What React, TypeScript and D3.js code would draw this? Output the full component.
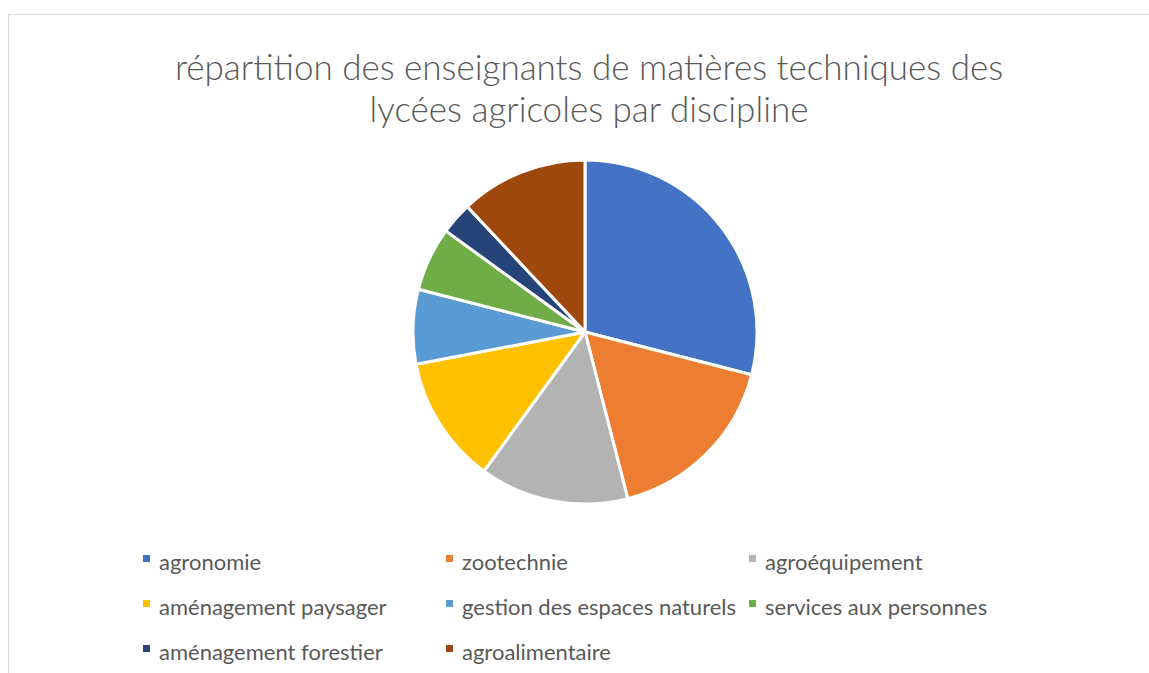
import React from 'react';
import * as d3 from 'd3';

const categories = [
  'agronomie',
  'zootechnie',
  'agroéquipement',
  'aménagement paysager',
  'gestion des espaces naturels',
  'services aux personnes',
  'aménagement forestier',
  'agroalimentaire',
];
const values = [29, 17, 14, 12, 7, 6, 3, 12];
const colors = ['#4472C4', '#ED7D31', '#B3B3B3', '#FFC000', '#5B9BD5', '#70AD47', '#264478', '#9E480E'];
const titleLines = ['répartition des enseignants de matières techniques des', 'lycées agricoles par discipline'];

const W = 1149;
const H = 673;
const FONT = "Lato, 'Open Sans', sans-serif";

function App() {
  const cx = 585;
  const cy = 332;
  const radius = 172;

  const pie = d3.pie<number>().sort(null).value((d) => d);
  const arcs = pie(values);
  const arcGen = d3.arc<d3.PieArcDatum<number>>().innerRadius(0).outerRadius(radius);

  const colX = d3.scaleOrdinal<number, number>().domain([0, 1, 2]).range([143, 446, 749]);
  const rowY = d3.scaleLinear().domain([0, 1]).range([563, 608]);

  return (
    <svg width={W} height={H} style={{ position: 'absolute', left: 0, top: 0 }}>
      <rect x={0} y={0} width={W} height={H} fill="#fff" />
      <rect x={8.5} y={14.5} width={W + 20} height={H + 20} fill="#fff" stroke="#d9d9d9" strokeWidth={1} />
      <g fontFamily={FONT} fill="#595959" textAnchor="middle" fontSize={35} fontWeight={300}>
        {titleLines.map((t, i) => (
          <text key={i} x={589} y={80 + i * 42}>{t}</text>
        ))}
      </g>
      <g transform={`translate(${cx},${cy})`}>
        {arcs.map((a, i) => (
          <path key={i} d={arcGen(a) || ''} fill={colors[i]} stroke="#fff" strokeWidth={3} strokeLinejoin="round" />
        ))}
      </g>
      <g fontFamily={FONT} fontSize={22} fill="#595959">
        {categories.map((c, i) => {
          const x = colX(i % 3);
          const y = rowY(Math.floor(i / 3));
          return (
            <g key={c}>
              <rect x={x} y={y - 8} width={7} height={7} fill={colors[i]} />
              <text x={x + 16} y={y + 7}>{c}</text>
            </g>
          );
        })}
      </g>
    </svg>
  );
}

export default App;
